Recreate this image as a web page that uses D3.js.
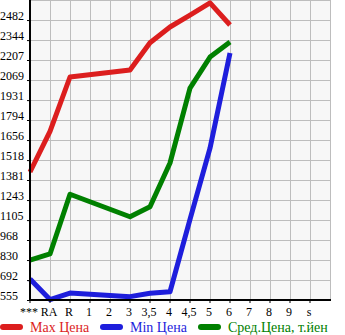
<!DOCTYPE html>
<html>
<head>
<meta charset="utf-8">
<script src="https://cdn.jsdelivr.net/npm/d3@7"></script>
<style>
  body { margin: 0; background: #fff; }
  svg text { font-family: "Liberation Serif", "DejaVu Serif", serif; }
</style>
</head>
<body>
<div class="chart"></div>
<script>
// chart data (null = no value for that category)
const categories = ["***", "RA", "R", "1", "2", "3", "3,5", "4", "4,5", "5", "6", "7", "8", "9", "s"];
const maxPrice = [1436, 1715, 2090, null, null, 2138, 2326, 2434, 2516, 2600, 2448, null, null, null, null];
const minPrice = [700, 558, 603, null, null, 578, 601, 612, 1110, 1600, 2255, null, null, null, null];
const avgPrice = [830, 872, 1283, null, null, 1128, 1197, 1498, 2014, 2227, 2331, null, null, null, null];
const yTicks = [555, 692, 830, 968, 1105, 1243, 1381, 1518, 1656, 1794, 1931, 2069, 2207, 2344, 2482];
const yMax = 2620;

const seriesNames = ["Max Цена", "Min Цена", "Сред.Цена, т.йен"];
const seriesColors = ["#dc1e1e", "#1e1edc", "#008000"];

function LineChart(container) {
    const width = 345, height = 335;
    const plot = { left: 30, right: 330, top: 0, bottom: 300 };

    const svg = d3.select(container)
        .append("svg")
        .attr("width", width)
        .attr("height", height);

    // scales
    const xScale = d3.scaleBand()
        .domain(categories)
        .range([plot.left, plot.right])
        .paddingInner(0).paddingOuter(0);
    const yScale = d3.scaleLinear()
        .domain([yTicks[0], yMax])
        .range([plot.bottom, plot.top]);

    // plot background
    svg.append("rect")
        .attr("x", plot.left).attr("y", plot.top)
        .attr("width", plot.right - plot.left)
        .attr("height", plot.bottom - plot.top)
        .attr("fill", "#f7f7f7");

    // grid
    const grid = svg.append("g").attr("class", "grid")
        .attr("stroke", "#bdbdbd").attr("stroke-width", 1);
    const xLines = categories.map(c => xScale(c)).concat([plot.right]);
    grid.selectAll(".vline").data(xLines).join("line")
        .attr("class", "vline")
        .attr("x1", d => Math.round(d) + 0.5).attr("x2", d => Math.round(d) + 0.5)
        .attr("y1", plot.top).attr("y2", plot.bottom);
    grid.selectAll(".hline").data(yTicks.concat([yMax])).join("line")
        .attr("class", "hline")
        .attr("x1", plot.left).attr("x2", plot.right)
        .attr("y1", d => Math.round(yScale(d)) + 0.5).attr("y2", d => Math.round(yScale(d)) + 0.5);

    // lines
    const allSeries = [maxPrice, minPrice, avgPrice];
    const line = d3.line()
        .x(d => xScale(d.cat))
        .y(d => yScale(d.value));

    allSeries.forEach((values, i) => {
        const pts = categories.map((c, j) => ({ cat: c, value: values[j] }))
            .filter(d => d.value != null);
        svg.append("path")
            .datum(pts)
            .attr("d", line)
            .attr("fill", "none")
            .attr("stroke", seriesColors[i])
            .attr("stroke-width", 5)
            .attr("stroke-linejoin", "round");
    });

    // axes
    const xAxis = d3.axisBottom(xScale).tickSize(3).tickSizeOuter(0);
    const gx = svg.append("g")
        .attr("transform", `translate(0, ${plot.bottom})`)
        .call(xAxis);
    gx.select(".domain").attr("stroke", "#000").attr("stroke-width", 2)
        .attr("d", `M${plot.left - 1},0H${plot.right + 1}`);
    gx.selectAll(".tick").attr("transform", d => `translate(${xScale(d)},0)`);
    gx.selectAll(".tick line").attr("stroke", "#000");
    gx.selectAll(".tick text")
        .attr("y", 16).attr("dy", 0).attr("x", -1)
        .attr("font-size", 12).attr("fill", "#000");

    const yAxis = d3.axisLeft(yScale).tickValues(yTicks).tickFormat(d3.format("d"))
        .tickSize(3).tickSizeOuter(0);
    const gy = svg.append("g")
        .attr("transform", `translate(${plot.left}, 0)`)
        .call(yAxis);
    gy.select(".domain").attr("stroke", "#000").attr("stroke-width", 2)
        .attr("d", `M0,${plot.top}V${plot.bottom + 1}`);
    gy.selectAll(".tick line").attr("stroke", "#000");
    gy.selectAll(".tick text")
        .attr("text-anchor", "start")
        .attr("x", -plot.left).attr("dy", -1)
        .attr("font-size", 12).attr("fill", "#000");

    // legend
    const legendX = [0, 100, 198];
    const legend = svg.append("g").attr("transform", "translate(0, 327)");
    seriesNames.forEach((name, i) => {
        legend.append("line")
            .attr("x1", legendX[i] + 3).attr("x2", legendX[i] + 20)
            .attr("y1", 0).attr("y2", 0)
            .attr("stroke", seriesColors[i])
            .attr("stroke-width", 6)
            .attr("stroke-linecap", "round");
        legend.append("text")
            .attr("x", legendX[i] + 30).attr("y", 5)
            .attr("font-size", 14)
            .attr("fill", seriesColors[i])
            .text(name);
    });
}

LineChart(".chart");
</script>
</body>
</html>
